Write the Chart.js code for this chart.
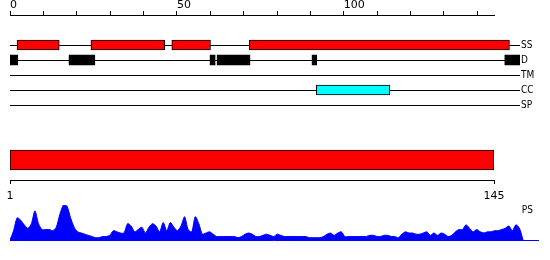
<!DOCTYPE html>
<html>
<head>
<meta charset="utf-8">
<script src="https://cdn.jsdelivr.net/npm/chart.js@4.4.1/dist/chart.umd.min.js"></script>
<style>
  body { margin: 0; background: #fff; }
  #wrap { position: relative; width: 550px; height: 260px; }
  canvas { position: absolute; left: 0; }
</style>
</head>
<body>
<div id="wrap">
  <canvas id="topAxis" width="550" height="20" style="top:0px"></canvas>
  <canvas id="tracks" width="550" height="90" style="top:30px"></canvas>
  <canvas id="domain" width="550" height="65" style="top:140px"></canvas>
  <canvas id="ps" width="550" height="45" style="top:200px"></canvas>
</div>
<script>
// sequence + feature data (residue positions)
const seqLength = 145;
const topTicks = [0, 10, 20, 30, 40, 50, 60, 70, 80, 90, 100, 110, 120, 130, 140];
const topLabels = [0, 50, 100];
const trackNames = ['SS', 'D', 'TM', 'CC', 'SP'];
const ssSegments = [[2, 14], [23, 44], [46, 57], [68, 142]];
const disorderSegments = [[0, 2.2], [16.8, 24.1], [56.9, 58.3], [58.9, 68.2], [85.9, 87.2], [140.7, 145]];
const coiledSegments = [[87.1, 108]];
const domainRange = [1, 145];
const domainTicks = [1, 145];
const psScores = [
    0, 8, 19, 17, 13, 10, 14, 25, 14, 9,
    9, 9, 8, 11, 22, 30, 29, 19, 11, 7,
    6, 5, 4, 3, 2, 2, 3, 3, 4, 8,
    7, 6, 6, 14, 12, 7, 9, 11, 6, 11,
    14, 12, 7, 15, 8, 15, 11, 8, 12, 20,
    9, 7, 20, 14, 5, 6, 7, 5, 3, 3,
    3, 3, 3, 3, 2, 3, 5, 6, 5, 3,
    3, 4, 5, 4, 3, 5, 4, 3, 3, 3,
    3, 3, 3, 3, 2, 2, 2, 2, 3, 5,
    6, 4, 6, 7, 3, 3, 3, 3, 3, 3,
    3, 4, 4, 3, 3, 4, 4, 3, 3, 2,
    5, 7, 6, 6, 5, 5, 6, 7, 4, 6,
    4, 6, 5, 3, 4, 7, 9, 9, 13, 10,
    7, 9, 7, 6, 7, 7, 8, 8, 9, 10,
    12, 8, 13, 10, 0
];

Chart.defaults.font.family = "'DejaVu Sans', sans-serif";
Chart.defaults.font.size = 11;
Chart.defaults.color = '#000';

const labelFont = { family: "'Liberation Sans Narrow', 'DejaVu Sans Condensed', sans-serif", size: 10 };

const baseOptions = {
    responsive: false,
    animation: false,
    plugins: { legend: { display: false }, tooltip: { enabled: false } }
};

// Top ruler 0..145
new Chart(document.getElementById('topAxis'), {
    type: 'scatter',
    data: { datasets: [] },
    options: {
        ...baseOptions,
        layout: { padding: { left: 10, right: 56, top: 0, bottom: 0 } },
        scales: {
            x: {
                type: 'linear', position: 'top', min: 0, max: seqLength, bounds: 'data',
                afterBuildTicks: axis => { axis.ticks = topTicks.map(v => ({ value: v })); },
                afterFit: axis => { axis.height = 15; },
                grid: { drawOnChartArea: false, tickLength: 4, color: '#000' },
                border: { color: '#000' },
                ticks: {
                    align: 'start', padding: -1, autoSkip: false, maxRotation: 0,
                    callback: v => topLabels.includes(v) ? String(v) : ''
                }
            },
            y: { display: false, min: 0, max: 1 }
        }
    }
});

// Feature tracks
new Chart(document.getElementById('tracks'), {
    type: 'bar',
    data: {
        labels: trackNames,
        datasets: [
            { data: ssSegments.map(s => ({ y: 'SS', x: s })), backgroundColor: '#ff0000', borderColor: '#000', borderWidth: 1 },
            { data: disorderSegments.map(s => ({ y: 'D', x: s })), backgroundColor: '#000', borderColor: '#000', borderWidth: 0 },
            { data: coiledSegments.map(s => ({ y: 'CC', x: s })), backgroundColor: '#00ffff', borderColor: '#000', borderWidth: 1 }
        ]
    },
    options: {
        ...baseOptions,
        indexAxis: 'y',
        layout: { padding: { left: 10, right: 0, top: 7.5, bottom: 7.5 } },
        datasets: { bar: { barThickness: 10, grouped: false, borderSkipped: false } },
        scales: {
            x: { type: 'linear', display: false, min: 0, max: seqLength },
            y: {
                type: 'category', position: 'right', offset: true,
                afterFit: axis => { axis.width = 30; },
                grid: { offset: false, color: '#000', drawTicks: false },
                border: { display: false },
                ticks: { padding: 1, font: labelFont }
            }
        }
    }
});

// Domain bar with 1..145 ruler
new Chart(document.getElementById('domain'), {
    type: 'bar',
    data: {
        labels: ['domain'],
        datasets: [{
            data: [domainRange], backgroundColor: '#ff0000', borderColor: '#000',
            borderWidth: 1, borderSkipped: false, barThickness: 20
        }]
    },
    options: {
        ...baseOptions,
        indexAxis: 'y',
        layout: { padding: { left: 10, right: 56, top: 0, bottom: 0 } },
        scales: {
            x: {
                type: 'linear', min: 1, max: seqLength, bounds: 'data',
                afterBuildTicks: axis => { axis.ticks = domainTicks.map(v => ({ value: v })); },
                afterFit: axis => { axis.height = 25; },
                grid: { drawOnChartArea: false, tickLength: 4, color: '#000' },
                border: { color: '#000' },
                ticks: { padding: 6, autoSkip: false, maxRotation: 0 }
            },
            y: { display: false }
        }
    }
});

// PS profile
new Chart(document.getElementById('ps'), {
    type: 'line',
    data: {
        datasets: [{
            data: psScores.map((v, i) => ({ x: i + 1, y: v })),
            fill: 'origin', backgroundColor: '#0000ff', borderColor: '#0000ff',
            borderWidth: 1, pointRadius: 0, tension: 0.25
        }]
    },
    options: {
        ...baseOptions,
        layout: { padding: { left: 10, right: 12, top: 5, bottom: 5 } },
        scales: {
            x: {
                type: 'linear', min: 1, max: 149.2,
                grid: { display: false, drawTicks: false },
                ticks: { display: false },
                border: { color: '#0000ff' },
                afterFit: axis => { axis.height = 0; }
            },
            y: { display: false, min: 0, max: 30 },
            yLabel: {
                position: 'right', min: 0, max: 30,
                afterBuildTicks: axis => { axis.ticks = [{ value: 25 }]; },
                afterFit: axis => { axis.width = 0; },
                grid: { display: false, drawTicks: false },
                border: { display: false },
                ticks: { mirror: true, padding: -5, font: labelFont, callback: () => 'PS' }
            }
        }
    }
});
</script>
</body>
</html>
